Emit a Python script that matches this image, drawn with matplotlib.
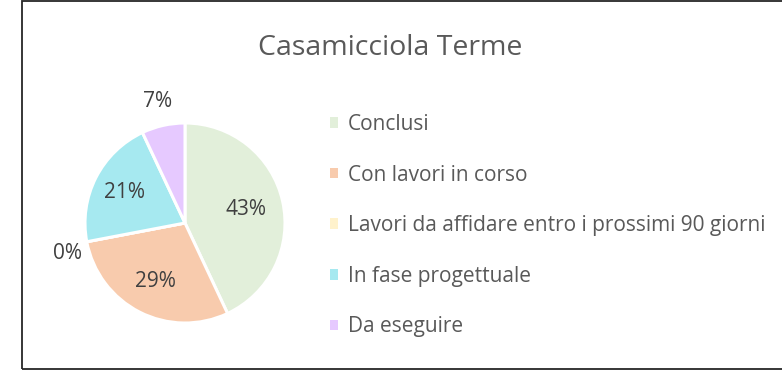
import numpy as np
import matplotlib.pyplot as plt
from matplotlib.patches import Patch, Rectangle

plt.rcParams['font.family'] = ['Open Sans', 'DejaVu Sans']

title = "Casamicciola Terme"
categories = [
    "Conclusi",
    "Con lavori in corso",
    "Lavori da affidare entro i prossimi 90 giorni",
    "In fase progettuale",
    "Da eseguire",
]
percentages = [43, 29, 0, 21, 7]
colors = ["#E2EFDA", "#F8CBAD", "#FFF2CC", "#A6E9F0", "#E6C9FF"]
# label distance from the centre, in radii (small slices are labelled outside)
label_radius = [0.63, 0.66, 1.05, 0.68, 1.25]
label_align = [("center", "center"), ("center", "center"), ("right", "top"),
               ("center", "center"), ("center", "center")]

W, H = 782, 372
fig = plt.figure(figsize=(W / 100, H / 100), dpi=100)

# chart frame
fig.patches.append(Rectangle((22 / W, 3 / H), (W + 10 - 22) / W, (371 - 3) / H,
                             transform=fig.transFigure, fill=False,
                             edgecolor="#262626", linewidth=1.3))

cx, cy, r = 185, 223, 100
ax = fig.add_axes([(cx - r) / W, (H - cy - r) / H, 2 * r / W, 2 * r / H])
wedges, _ = ax.pie(percentages, colors=colors, startangle=90, counterclock=False,
                   radius=1, wedgeprops=dict(edgecolor="white", linewidth=2.2))
ax.set_xlim(-1, 1)
ax.set_ylim(-1, 1)
ax.set_aspect("equal")
ax.axis("off")

for w, p, lr, (ha, va) in zip(wedges, percentages, label_radius, label_align):
    mid = np.deg2rad((w.theta1 + w.theta2) / 2)
    ax.text(lr * np.cos(mid), lr * np.sin(mid), f"{p}%", ha=ha, va=va,
            fontsize=15, color="#404040")

fig.text(390 / W, 1 - 48 / H, title, ha="center", va="center",
         fontsize=20.5, color="#595959")

handles = [Patch(facecolor=c, edgecolor="none") for c in colors]
fig.legend(handles, categories, loc="upper left",
           bbox_to_anchor=(330 / W, 1 - 114 / H), frameon=False,
           fontsize=15, labelcolor="#595959", handlelength=0.4,
           handleheight=0.4, handletextpad=0.45, labelspacing=1.42,
           borderaxespad=0, borderpad=0)

fig.savefig("out.png", dpi=100, facecolor="white")
